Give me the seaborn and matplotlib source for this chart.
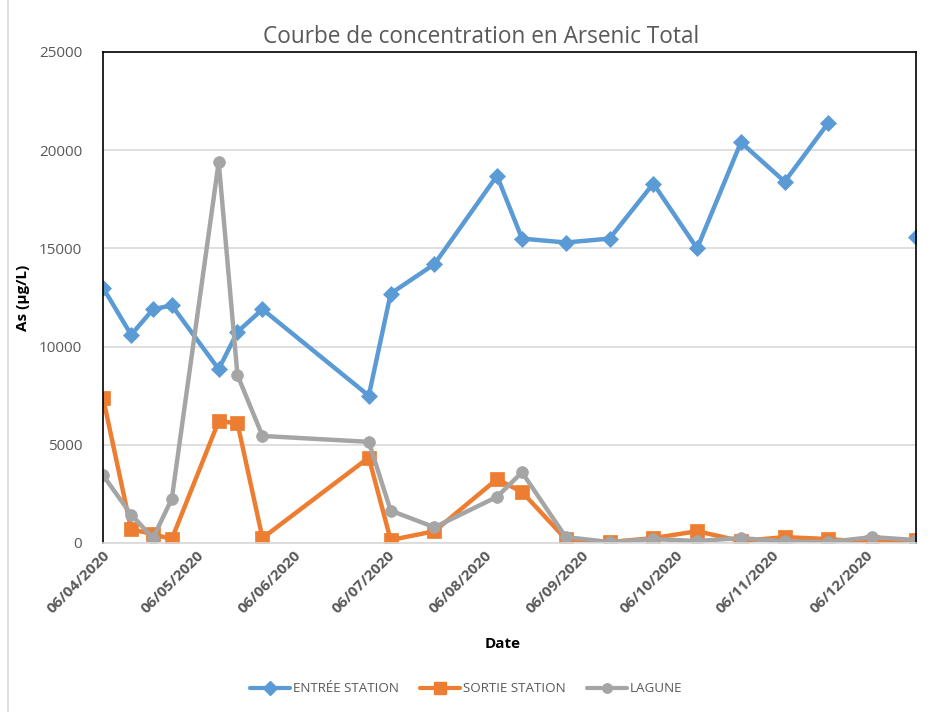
import numpy as np
import pandas as pd
import matplotlib
matplotlib.use("Agg")
import matplotlib.pyplot as plt
import matplotlib.dates as mdates
from matplotlib.lines import Line2D
import seaborn as sns

dates = ["2020-04-06", "2020-04-15", "2020-04-22", "2020-04-28", "2020-05-13",
         "2020-05-19", "2020-05-27", "2020-06-30", "2020-07-07", "2020-07-21",
         "2020-08-10", "2020-08-18", "2020-09-01", "2020-09-15", "2020-09-29",
         "2020-10-13", "2020-10-27", "2020-11-10", "2020-11-24", "2020-12-08",
         "2020-12-22"]
entree = [13000, 10600, 11900, 12100, 8850, 10750, 11900, 7500, 12700, 14200,
          18700, 15500, 15300, 15500, 18300, 15000, 20400, 18400, 21400, np.nan,
          15600]
sortie = [7400, 700, 450, 200, 6200, 6100, 250, 4350, 150, 600,
          3250, 2600, 200, 50, 250, 600, 100, 300, 200, 30, 150]
lagune = [3450, 1450, 250, 2250, 19400, 8550, 5450, 5150, 1650, 800,
          2350, 3600, 300, 50, 200, 100, 250, 80, 50, 300, 150]
series_names = ["ENTRÉE STATION", "SORTIE STATION", "LAGUNE"]
title = "Courbe de concentration en Arsenic Total"
ylabel = "As (µg/L)"
xlabel = "Date"
tick_dates = ["2020-04-06", "2020-05-06", "2020-06-06", "2020-07-06", "2020-08-06",
              "2020-09-06", "2020-10-06", "2020-11-06", "2020-12-06"]

sns.set_theme(style="white")
plt.rcParams["font.family"] = ["Open Sans", "DejaVu Sans"]

colors = ["#5B9BD5", "#ED7D31", "#A5A5A5"]
markers = ["D", "s", "o"]
msizes = [8.5, 10, 8.5]

fig = plt.figure(figsize=(9.42, 7.12), dpi=100)
ax = fig.add_axes([103 / 942, 1 - 543 / 712, (916 - 103) / 942, (543 - 52) / 712])

x = pd.to_datetime(dates)
for name, vals, c, m, ms in zip(series_names, [entree, sortie, lagune], colors, markers, msizes):
    df = pd.DataFrame({"date": x, "value": vals})
    df["seg"] = df["value"].isna().cumsum()
    df = df.dropna()
    sns.lineplot(data=df, x="date", y="value", units="seg", estimator=None,
                 color=c, marker=m, markersize=ms, markeredgecolor=c,
                 markeredgewidth=0.5, linewidth=3.2, ax=ax, legend=False)

ax.set_xlim(pd.Timestamp("2020-04-06"), pd.Timestamp("2020-12-22"))
ax.set_ylim(0, 25000)
ax.set_yticks(range(0, 25001, 5000))
ax.set_xticks(pd.to_datetime(tick_dates))
ax.xaxis.set_major_formatter(mdates.DateFormatter("%d/%m/%Y"))
ax.grid(axis="y", color="#D9D9D9", linewidth=1.2)
ax.grid(axis="x", visible=False)
ax.set_axisbelow(True)

for s in ["left", "top", "right"]:
    ax.spines[s].set_visible(True)
    ax.spines[s].set_color("black")
    ax.spines[s].set_linewidth(1.2)
ax.spines["bottom"].set_color("#D9D9D9")
ax.spines["bottom"].set_linewidth(1.2)

ax.tick_params(axis="y", length=0, labelsize=11, labelcolor="#595959", pad=15)
ax.tick_params(axis="x", length=0, labelsize=11, labelcolor="#595959", pad=4)
for lab in ax.get_xticklabels():
    lab.set_rotation(45)
    lab.set_ha("right")
    lab.set_rotation_mode("anchor")
    lab.set_fontweight("bold")

fig.text(481 / 942, 1 - 37 / 712, title, fontsize=16.3, color="#595959",
         ha="center", va="center")
ax.set_ylabel(ylabel, fontsize=11, fontweight="bold", color="black")
ax.yaxis.set_label_coords((30 - 103) / 813, 0.5)
ax.set_xlabel(xlabel, fontsize=11, fontweight="bold", color="black")
ax.xaxis.set_label_coords((503 - 103) / 813, -(637 - 543) / 491)

handles = [Line2D([0], [0], color=c, marker=m, markersize=ms * 0.8, linewidth=3,
                  markeredgecolor=c) for c, m, ms in zip(colors, markers, msizes)]
fig.legend(handles, series_names, loc="center", bbox_to_anchor=(466 / 942, 1 - 689 / 712),
           ncol=3, frameon=False, handlelength=3.0, handletextpad=0.2, columnspacing=1.6,
           prop={"size": 9.6}, labelcolor="#595959")

fig.add_artist(Line2D([8 / 942, 8 / 942], [0, 1], transform=fig.transFigure,
                      color="#D9D9D9", linewidth=1.2))

fig.savefig("out.png", dpi=100)
